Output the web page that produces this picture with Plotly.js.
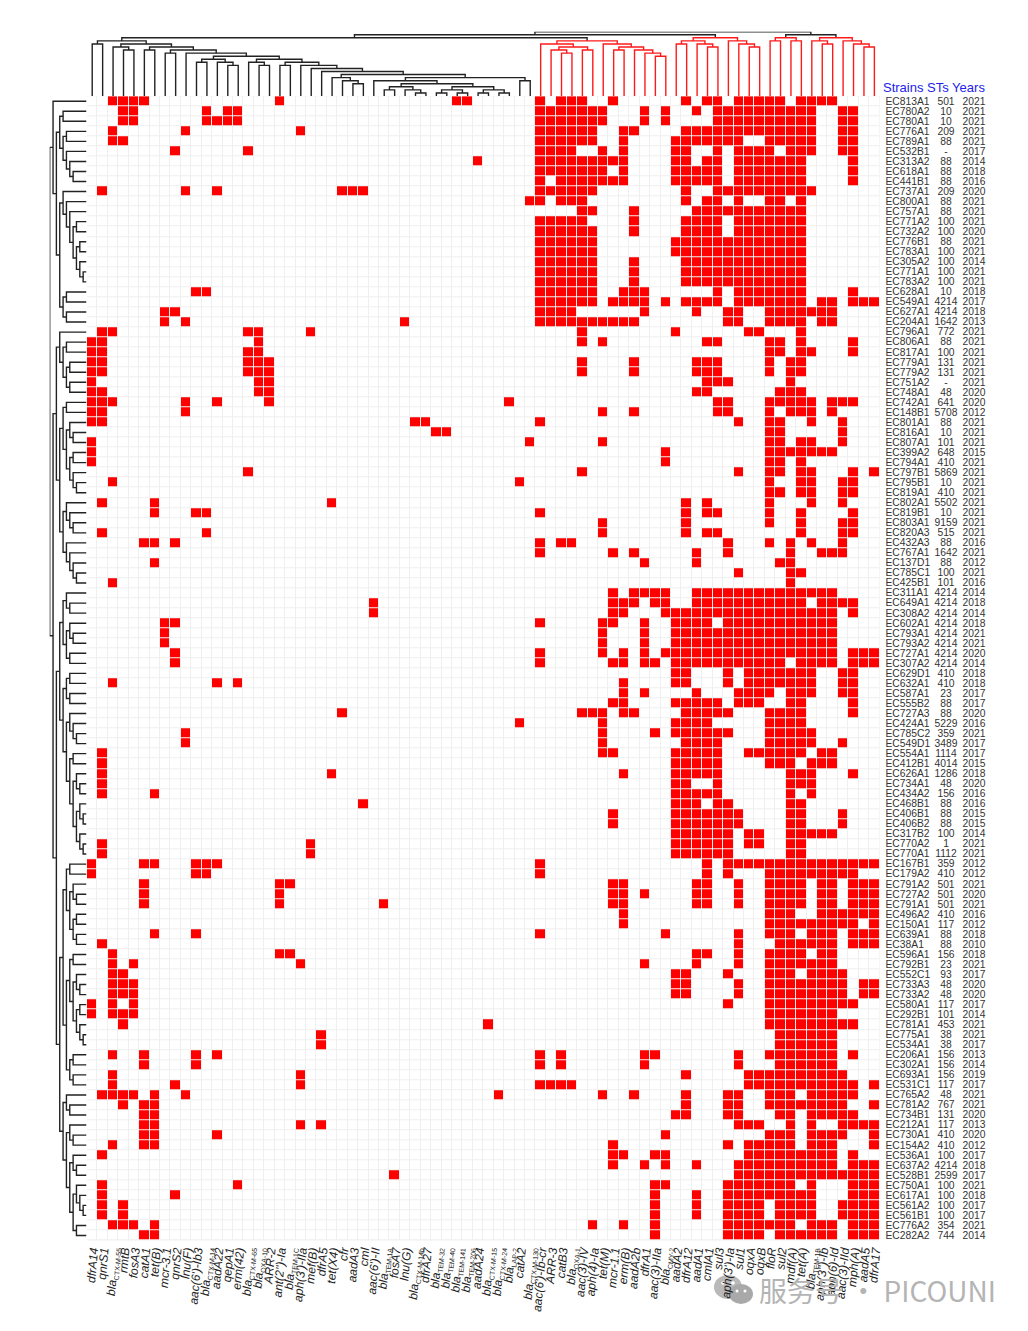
<!DOCTYPE html>
<html>
<head>
<meta charset="utf-8">
<script src="https://cdn.plot.ly/plotly-3.0.1.min.js"></script>
<style>html,body{margin:0;padding:0;background:#fff}#chart{width:1028px;height:1331px}</style>
</head>
<body>
<div id="chart"></div>
<script>
// ---------- categories ----------
const genes = ["dfrA14","qnrS1","bla|CTX-M-55","rmtB","fosA3","catA1","tet(B)","mcr-3.1","qnrS2","lnu(F)","aac(6')-Ib3","bla|CTX-M-14","aadA22","qepA1","erm(42)","bla|CTX-M-65","bla|OXA-10","ARR-2","ant(2'')-Ia","bla|TEM-1C","aph(3')-IIa","mef(B)","dfrA5","tet(X4)","cfr","aadA3","cml","aac(6')-II","bla|TEM-1A","fosA7","lnu(G)","bla|CTX-M-14b","dfrA27","bla|TEM-32","bla|TEM-40","bla|TEM-141","bla|TEM-206","aadA24","bla|CTX-M-15","bla|CTX-M-24","bla|LAP-2","catA2","bla|CTX-M-130","aac(6')-Ib-cr","ARR-3","catB3","bla|OXA-1","aac(3)-IV","aph(4)-Ia","tet(M)","mcr-1.1","erm(B)","aadA2b","dfrA1","aac(3)-IIa","bla|CMY-2","aadA2","dfrA12","aadA1","cmlA1","sul3","aph(3')-Ia","sul1","oqxA","oqxB","floR","sul2","mdf(A)","tet(A)","bla|TEM-1B","aph(3'')-Ib","aph(6)-Id","aac(3)-IId","mph(A)","aadA5","dfrA17"];

const strains = ["EC813A1","EC780A2","EC780A1","EC776A1","EC789A1","EC532B1","EC313A2","EC618A1","EC441B1","EC737A1","EC800A1","EC757A1","EC771A2","EC732A2","EC776B1","EC783A1","EC305A2","EC771A1","EC783A2","EC628A1","EC549A1","EC627A1","EC204A1","EC796A1","EC806A1","EC817A1","EC779A1","EC779A2","EC751A2","EC748A1","EC742A1","EC148B1","EC801A1","EC816A1","EC807A1","EC399A2","EC794A1","EC797B1","EC795B1","EC819A1","EC802A1","EC819B1","EC803A1","EC820A3","EC432A3","EC767A1","EC137D1","EC785C1","EC425B1","EC311A1","EC649A1","EC308A2","EC602A1","EC793A1","EC793A2","EC727A1","EC307A2","EC629D1","EC632A1","EC587A1","EC555B2","EC727A3","EC424A1","EC785C2","EC549D1","EC554A1","EC412B1","EC626A1","EC734A1","EC434A2","EC468B1","EC406B1","EC406B2","EC317B2","EC770A2","EC770A1","EC167B1","EC179A2","EC791A2","EC727A2","EC791A1","EC496A2","EC150A1","EC639A1","EC38A1","EC596A1","EC792B1","EC552C1","EC733A3","EC733A2","EC580A1","EC292B1","EC781A1","EC775A1","EC534A1","EC206A1","EC302A1","EC693A1","EC531C1","EC765A2","EC781A2","EC734B1","EC212A1","EC730A1","EC154A2","EC536A1","EC637A2","EC528B1","EC750A1","EC617A1","EC561A2","EC561B1","EC776A2","EC282A2"];

const sts = ["501","10","10","209","88","-","88","88","88","209","88","88","100","100","88","100","100","100","100","10","4214","4214","1642","772","88","100","131","131","-","48","641","5708","88","10","101","648","410","5869","10","410","5502","10","9159","515","88","1642","88","100","101","4214","4214","4214","4214","4214","4214","4214","4214","410","410","23","88","88","5229","359","3489","1114","4014","1286","48","156","88","88","88","100","1","1112","359","410","501","501","501","410","117","88","88","156","23","93","48","48","117","101","453","38","38","156","156","156","117","48","767","131","117","410","410","100","4214","2599","100","100","100","100","354","744"];

const years = [2021,2021,2021,2021,2021,2017,2014,2018,2016,2020,2021,2021,2021,2020,2021,2021,2014,2021,2021,2018,2017,2018,2013,2021,2021,2021,2021,2021,2021,2020,2020,2012,2021,2021,2021,2015,2021,2021,2021,2021,2021,2021,2021,2021,2016,2021,2012,2021,2016,2014,2018,2014,2018,2021,2021,2020,2014,2018,2018,2017,2017,2020,2016,2021,2017,2017,2015,2018,2020,2016,2016,2015,2015,2014,2021,2021,2012,2012,2021,2020,2021,2016,2012,2018,2010,2018,2021,2017,2020,2020,2017,2014,2021,2021,2017,2013,2014,2019,2017,2021,2021,2020,2013,2020,2012,2017,2018,2017,2021,2018,2017,2017,2021,2014];

// ---------- presence of each gene per strain (1-based gene numbers) ----------
const presence = [
"3-6,19,36,37,44,46-48,51,58,60,61,63-67,69-72",
"4,5,12,14,15,44-50,54,56,59,61-70,73,74",
"4,5,12-15,44-50,54,56,61-70,73,74",
"3,10,21,44-49,52,53,58-70,73,74",
"3,4,44-49,52,57-63,66-70,73,74",
"9,16,44-47,50,52,57,58,61,63-66,68-70,73,74",
"38,44-52,57,58,60,61,63-69,74",
"44-50,52,57-61,63-69,74",
"44,46-52,57-61,63-69,74",
"2,10,13,25-27,44-49,58,61-70",
"43,44,46-48,58,60,61,63,66,67,69",
"48,49,53,59-69",
"44-48,53,58-61,63-69",
"44-49,53,58-61,63-69",
"44-49,57-69",
"44-49,57-69",
"44-49,53,58-69",
"44-49,53,58-69",
"44-49,53,58-69",
"11,12,44-49,52-54,61,63-69,74",
"44-49,51-54,56,58-61,63-69,71,72,74-76",
"8,9,44-47,54,59,62,63,66-72",
"8,10,31,44-53,62,63,66-69,71,72",
"2,3,16,17,22,48,57,64,65,69",
"1,2,17,48,50,60,61,66,67,69,74",
"1,2,16,17,66,67,69,70,74",
"1,2,16-18,48,53,59-61,66,68,69",
"1,2,16-18,48,53,59-61,66,68,69",
"1,17,18,60-62,68",
"1,2,17,18,59,60,67-69",
"1-3,10,13,18,41,61,62,66-70,72-74",
"1,2,10,50,53,61,62,66,68-70,72",
"1,2,32,33,44,63,66,67,70,73",
"34,35,66,67,73",
"1,43,50,66,67,69,70,73",
"1,56,66-72",
"1,56,66,67,69",
"16,48,63,66,67,69,70,74,76",
"3,42,66,69,70,73,74",
"66,67,69,70,73,74",
"2,7,24,58,60,66,70,73",
"7,11,12,44,58,60,61,66,69,74",
"50,58,66,69,73,74",
"2,12,50,58,60,61,69,73,74",
"6,7,9,44,46,47,62,66,68,70,73",
"44,51,53,59,62,68,71-73",
"7,54,59,67,68",
"63,68,69",
"3,68",
"51,53-56,59-72",
"28,51-53,55,56,59-69,71-74",
"28,51,52,56-72,74",
"8,9,44,50,51,54,57-60,62-72",
"8,50,54,57-72",
"8,50,54,57-72",
"9,44,50,52,54,56-72,74-76",
"9,44,51,52,54,55,57-67,69-72,74-76",
"57,58,62,64-70,73,74",
"3,13,15,52,57,58,62,64-70,73,74",
"52,54,59,63-66,68-70,73,74",
"51,52,57-61,63-65,68,69,74",
"25,48-50,52,53,58-62,66-69,74",
"42,50,57-60,66-69",
"10,50,55,57-62,66-70",
"10,50,58-61,66-70,73",
"2,50,51,57-61,64-69,71,72",
"2,57-61,66-68,70-72",
"2,24,52,57-61,68-70,74",
"2,57,58,61,68-70",
"2,7,57-61,68,70",
"27,57-59,61,62,68,69",
"51,57-63,68,69,73",
"51,57-63,68,69,73",
"57-62,64,65,68-72",
"2,22,57-62,64,65,68,69",
"2,22,57-62,68,69",
"1,6,7,11-13,44,60,62-76",
"1,11,12,44,60,62,66-74",
"6,19,20,51,52,59,60,63,66-69,71,72,74-76",
"6,19,51,52,54,59,60,63,66-69,71,72,74-76",
"6,19,29,51,52,59,60,63,66-69,71,72,74-76",
"52,66-68,71-76",
"52,66-74,76",
"7,11,44,56,63,66-68,70-72,74-76",
"2,63,67-72,74-76",
"3,19,20,59,60,63,66-69,71,72",
"3,5,21,54,59,63,66-72",
"3,4,57,58,62,66-68,70-73",
"3-5,57,58,63,66-73,75,76",
"3-5,57,58,63,66-73,75,76",
"1,3,5,62,66-74",
"1,3-5,66-72",
"4,39,66-74",
"23,67-72",
"23,67-72",
"3,6,11,13,44,46,54,55,63,66-72,74",
"6,11,44,46,54,63,67-72",
"3,21,58,64-73",
"3,9,21,44-47,64-74,76",
"2-5,7,10,40,50,53,58,62,63,66-68,70-74",
"4,6,7,58,62,63,66-73,76",
"6,7,57,58,62,63,67,68,70-74",
"6,7,21,23,63-65,68,70,73-76",
"6,7,13,56,66-68,70-73,76",
"3,6,7,51,62,64-68,70-72,76",
"2,51,52,55,56,64-72,74",
"51,54,56,59,63-72,74-76",
"30,63-76",
"2,15,55,56,62-68,70,74-76",
"2,9,55,59,62-70,74-76",
"2,4,55,59,62-65,67-70,73-76",
"2,4,55,59,62-65,67-70,73-76",
"3-5,7,49,52,55,62-68,70-72,74-76",
"6,7,55,62-65,67-72,74-76"
];

// ---------- column dendrogram: [mergeLevel, left, right], leaves are gene numbers ----------
const colBlackLeft = [18,[17,1,2],
  [17,[16,3,[15,4,5]],
      [16,[15,6,7],
          [15,[14,8,9],
              [14,10,
                [13,[12,[11,11,12],[11,13,[10,14,15]]],
                    [12,[11,16,[10,17,18]],
                        [11,[10,19,20],
                            [10,21,[9,22,[8,23,
                              [7,[6,24,[5,25,[4,26,27]]],
                                 [6,[5,28,[4,[3,[2,29,30],[2,31,[1,32,33]]],
                                             [3,[2,[1,34,35],[1,36,37]],[2,[1,38,39],[1,40,41]]]]],
                                    [5,42,43]]]]]]]]]]]]]];
const colRedA = [18,[17,44,[16,[15,45,[14,46,47]],[15,48,49]]],
                    [17,50,[16,[15,51,52],[15,53,[14,54,[13,55,56]]]]]];
const colRedB = [19,[18,[17,57,58],[17,59,[16,60,61]]],[18,62,[17,63,[16,64,65]]]];
const colRedC = [19,[18,66,67],[18,68,69]];
const colRedD = [19,[18,70,[17,71,72]],[18,73,[17,74,[16,75,76]]]];
const colTree = [21,[20,[19,colBlackLeft,colRedA],colRedB],[20,colRedC,colRedD]];
const colRedRoots = [colRedA,colRedB,colRedC,colRedD];

// ---------- row dendrogram: leaves are strain numbers ----------
const rowG1 = [8,[7,2,3],[7,[6,4,5],[6,6,[5,7,[4,8,9]]]]];
const rowG2 = [8,[7,10,[6,11,[5,12,[4,[3,13,14],[3,[2,15,16],[2,17,[1,18,19]]]]]]],
                 [7,[6,20,21],[6,22,23]]];
const rowG3 = [9,[8,24,[7,[6,25,26],[6,[5,27,28],[5,29,30]]]],
  [8,[7,[6,31,32],[6,[5,33,[4,34,35]],[5,[4,36,37],[4,38,[3,39,40]]]]],
     [7,[6,41,[5,42,[4,43,44]]],[6,45,[5,46,[4,47,[3,48,49]]]]]]];
const rowG4 = [8,[7,[6,50,[5,51,52]],[6,[5,53,[4,54,55]],[5,56,57]]],
  [7,[6,[5,58,59],[5,60,61]],
     [6,[5,62,[4,63,[3,64,65]]],
        [5,[4,66,67],[4,[3,68,[2,69,70]],[3,[2,71,[1,72,73]],[2,74,[1,75,76]]]]]]]];
const rowG5 = [8,
  [7,[6,[5,77,78],[5,[4,79,[3,80,81]],[4,[3,82,83],[3,84,85]]]],
     [6,[5,[4,86,87],[4,[3,88,[2,89,90]],[3,[2,91,92],[2,93,[1,94,95]]]]],
        [5,[4,96,97],[4,98,99]]]],
  [7,[6,100,[5,101,102]],
     [6,[5,103,[4,104,105]],
        [5,[4,106,[3,107,108]],[4,[3,109,[2,110,[1,111,112]]],[3,113,114]]]]]];
const rowTree = [11,[10,1,[9,rowG1,rowG2]],[10,rowG3,[9,rowG4,rowG5]]];

// ---------- helpers ----------
const W = 1028, H = 1331;
const px = v => v / W, py = v => 1 - v / H;
const nCols = genes.length, nRows = strains.length;

const z = presence.map(s => {
  const r = new Array(nCols).fill(0);
  s.split(',').forEach(p => {
    const [a, b] = p.split('-').map(Number);
    for (let k = a; k <= (b || a); k++) r[k - 1] = 1;
  });
  return r;
});

function collect(node, sink, redRoots, redSink) {
  if (typeof node === 'number') return { pos: node, lev: 0 };
  if (redRoots && redRoots.includes(node)) sink = redSink;
  const a = collect(node[1], sink, redRoots, redSink);
  const b = collect(node[2], sink, redRoots, redSink);
  sink.pos.push(a.pos, a.pos, b.pos, b.pos, null);
  sink.lev.push(a.lev, node[0], node[0], b.lev, null);
  return { pos: (a.pos + b.pos) / 2, lev: node[0] };
}
const colBlack = { pos: [], lev: [] }, colRed = { pos: [], lev: [] }, rowLines = { pos: [], lev: [] };
collect(colTree, colBlack, colRedRoots, colRed);
collect(rowTree, rowLines);

const tickLabel = g => {
  const [a, b] = g.split('|');
  return b ? a + '<sub><span style="font-size:7px;font-style:normal">' + b + '</span></sub>' : a;
};
const colIdx = genes.map((_, i) => i + 1), rowIdx = strains.map((_, i) => i + 1);
const textRow = rowIdx.map(i => i + 0.08);
const tableFont = { family: 'Liberation Sans, Arial, sans-serif', size: 10.3, color: '#333333' };
const dendroBlack = '#222222', dendroRed = '#ff1a1a';

const data = [
  { type: 'heatmap', x: colIdx, y: rowIdx, z, xgap: 1, ygap: 1, zmin: 0, zmax: 1, showscale: false,
    colorscale: [[0, '#ffffff'], [1, '#ff0000']], hoverinfo: 'skip', xaxis: 'x', yaxis: 'y' },
  { type: 'scatter', mode: 'lines', x: colBlack.pos, y: colBlack.lev, xaxis: 'x', yaxis: 'y2', cliponaxis: false,
    line: { color: dendroBlack, width: 1.4 }, hoverinfo: 'skip' },
  { type: 'scatter', mode: 'lines', x: colRed.pos, y: colRed.lev, xaxis: 'x', yaxis: 'y2', cliponaxis: false,
    line: { color: dendroRed, width: 1.4 }, hoverinfo: 'skip' },
  { type: 'scatter', mode: 'lines', x: rowLines.lev, y: rowLines.pos, xaxis: 'x2', yaxis: 'y', cliponaxis: false,
    line: { color: dendroBlack, width: 1.4 }, hoverinfo: 'skip' },
  { type: 'scatter', mode: 'text', x: strains.map(() => 885.5), y: textRow, text: strains, textposition: 'middle right',
    textfont: tableFont, xaxis: 'x3', yaxis: 'y', cliponaxis: false, hoverinfo: 'skip' },
  { type: 'scatter', mode: 'text', x: sts.map(() => 946), y: textRow, text: sts, textposition: 'middle center',
    textfont: tableFont, xaxis: 'x3', yaxis: 'y', cliponaxis: false, hoverinfo: 'skip' },
  { type: 'scatter', mode: 'text', x: years.map(() => 974), y: textRow, text: years.map(String), textposition: 'middle center',
    textfont: tableFont, xaxis: 'x3', yaxis: 'y', cliponaxis: false, hoverinfo: 'skip' }
];

const hidden = { visible: false, fixedrange: true };
const iconGrey = '#b9b9b9';
const circle = (cx, cy, rx, ry, col) => ({
  type: 'circle', xref: 'paper', yref: 'paper', layer: 'below',
  x0: px(cx - rx), x1: px(cx + rx), y0: py(cy + ry), y1: py(cy - ry),
  fillcolor: col, line: { width: 0 }
});

const layout = {
  width: W, height: H, autosize: false, showlegend: false,
  margin: { l: 0, r: 0, t: 0, b: 0, pad: 0 },
  paper_bgcolor: '#ffffff', plot_bgcolor: 'rgba(0,0,0,0)',
  xaxis: {
    domain: [px(87), px(879.6)], range: [0.5, nCols + 0.5], anchor: 'y',
    tickmode: 'array', tickvals: colIdx, ticktext: genes.map(tickLabel),
    tickangle: -85, ticks: '', ticklen: 0, ticklabelstandoff: 0,
    tickfont: { family: 'Liberation Sans, Arial, sans-serif', size: 12, color: '#222222', style: 'italic' },
    showgrid: false, zeroline: false, showline: false, automargin: false, fixedrange: true
  },
  yaxis: {
    domain: [py(1240.5), py(96.2)], range: [nRows + 0.5, 0.5], anchor: 'x',
    showticklabels: false, ticks: '', showgrid: false, zeroline: false, showline: false, fixedrange: true
  },
  yaxis2: Object.assign({ domain: [py(96), py(31.7)], range: [0, 21], anchor: 'x' }, hidden),
  xaxis2: Object.assign({ domain: [px(49.7), px(86.5)], range: [11, 0], anchor: 'y' }, hidden),
  xaxis3: Object.assign({ domain: [px(880), 1], range: [880, W], anchor: 'y' }, hidden),
  annotations: [
    { text: 'Strains STs Years', xref: 'paper', yref: 'paper', x: px(880.5), y: py(87.7),
      xanchor: 'left', yanchor: 'middle', showarrow: false,
      font: { family: 'Liberation Sans, Arial, sans-serif', size: 13, color: '#2222ee' } },
    { text: '服务号 · PICOUNI', xref: 'paper', yref: 'paper', x: px(757), y: py(1290),
      xanchor: 'left', yanchor: 'middle', showarrow: false,
      font: { family: 'Noto Sans CJK SC, Noto Sans, sans-serif', size: 28, color: '#b4b4b4' } }
  ],
  shapes: [
    { type: 'rect', xref: 'paper', yref: 'paper', layer: 'below',
      x0: px(87), x1: px(879.6), y0: py(1240.5), y1: py(96.2), fillcolor: '#efefef', line: { width: 0 } },
    circle(728, 1287, 14, 12, iconGrey),
    circle(741, 1294, 12, 10, '#a9a9a9'),
    circle(723, 1283, 1.8, 1.8, '#ffffff'),
    circle(733, 1283, 1.8, 1.8, '#ffffff'),
    circle(737, 1291, 1.5, 1.5, '#ffffff'),
    circle(745, 1291, 1.5, 1.5, '#ffffff')
  ]
};

Plotly.newPlot('chart', data, layout, { staticPlot: true, displayModeBar: false });
</script>
</body>
</html>
